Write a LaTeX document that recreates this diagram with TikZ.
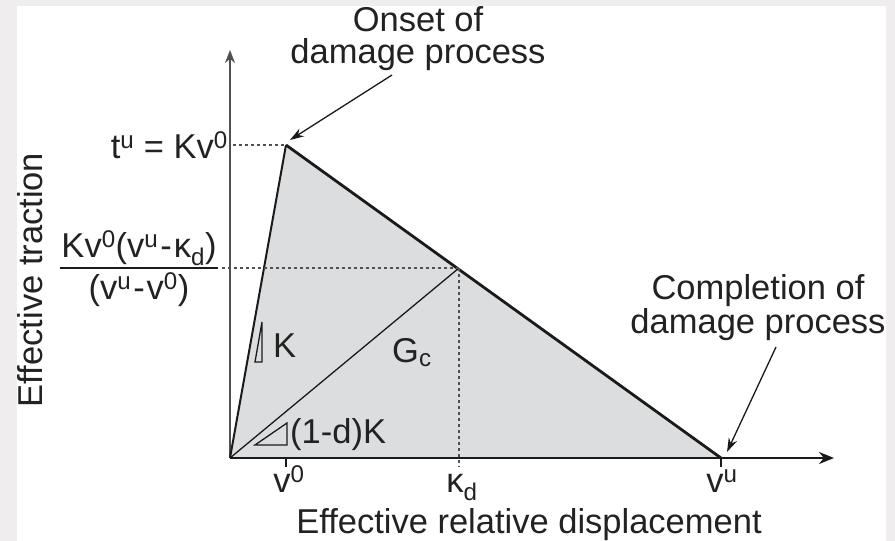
\documentclass[tikz,border=0pt]{standalone}
\usepackage{fontspec}
\setmainfont{Liberation Sans}
\usetikzlibrary{arrows.meta}
\definecolor{bgc}{HTML}{EFEDED}
\definecolor{fillc}{HTML}{DCDDDF}
\definecolor{linec}{HTML}{1A1A1A}
\definecolor{axisc}{HTML}{505050}
\definecolor{txtc}{HTML}{222222}
\newcommand{\mns}{\kern2pt-\kern2pt}
\begin{document}
\begin{tikzpicture}[x=1pt,y=-1pt,
  lbl/.style={font=\fontsize{34.5}{32}\selectfont, text=txtc, inner sep=0pt},
  dotline/.style={line width=1.6pt, axisc, dash pattern=on 3pt off 3pt},
  thinln/.style={line width=1.3pt, linec},
  callout/.style={line width=1.3pt, linec, -{Stealth[length=14pt,width=9pt]}}]
\fill[bgc] (0,0) rectangle (895,541);
\fill[white] (17,6) rectangle (886,541);
\useasboundingbox (0,0) rectangle (895,541);

\coordinate (O) at (230,458);
\coordinate (P) at (286,145);
\coordinate (U) at (721,458);
\coordinate (Kd) at (459,268);
\coordinate (Ytop) at (230,50);
\coordinate (Xend) at (834,458);
\coordinate (PL) at (233,145);
\coordinate (FL) at (222,268);
\coordinate (KdB) at (459,467);
\coordinate (V0B) at (286,467);
\coordinate (V0T) at (286,458);
\coordinate (VuB) at (721,467);

% shaded area
\fill[fillc] (O) -- (P) -- (U) -- cycle;

% axes
\draw[line width=1.6pt, axisc, -{Stealth[length=13pt,width=10pt]}] (O) -- (Ytop);
\draw[line width=2.4pt, linec, -{Stealth[length=15pt,width=12pt]}] (O) -- (Xend);

% curve lines
\draw[line width=2pt, linec, line join=round] (O) -- (P);
\draw[line width=2.8pt, linec] (P) -- (U);
\draw[thinln] (O) -- (Kd);

% dotted guides
\draw[dotline] (PL) -- (P);
\draw[dotline] (FL) -- (Kd);
\draw[dotline] (Kd) -- (KdB);

% ticks
\draw[line width=1.6pt, linec] (V0T) -- (V0B);
\draw[line width=1.6pt, linec] (U) -- (VuB);

% slope triangles
\coordinate (k1) at (255,362);
\coordinate (k2) at (262,322);
\coordinate (k3) at (262,362);
\draw[thinln, line join=miter] (k1) -- (k2) -- (k3) -- cycle;
\coordinate (d1) at (255,445);
\coordinate (d2) at (287,423);
\coordinate (d3) at (287,445);
\draw[thinln, line join=miter] (d1) -- (d2) -- (d3) -- cycle;

% labels
\node[lbl, anchor=base east] (tu) at (228,158) {t\textsuperscript{u} = Kv\textsuperscript{0}};
\node[lbl, anchor=base] (num) at (139,257) {Kv\textsuperscript{0}(v\textsuperscript{u}\mns κ\textsubscript{d})};
\node[lbl, anchor=base] (den) at (139,299) {(v\textsuperscript{u}\mns v\textsuperscript{0})};
\coordinate (fa) at (60,268);
\coordinate (fb) at (218,268);
\draw[line width=1.6pt, linec] (fa) -- (fb);

\node[lbl, anchor=base west] (Klbl) at (273,357) {K};
\node[lbl, anchor=base west] (Gc) at (392,362) {G\textsubscript{c}};
\node[lbl, anchor=base west] (dK) at (290,443) {(1-d)K};

\node[lbl, anchor=base] (v0) at (289,492) {v\textsuperscript{0}};
\node[lbl, anchor=base] (kd) at (462,492) {κ\textsubscript{d}};
\node[lbl, anchor=base] (vu) at (722,492) {v\textsuperscript{u}};

\node[lbl, anchor=base] (xlab) at (529,533) {Effective relative displacement};
\node[lbl, anchor=base, rotate=90] (ylab) at (42,280) {Effective traction};

\node[lbl, align=center, anchor=base] (onset) at (418,63) {Onset of\\damage process};
\node[lbl, align=center, anchor=base] (compl) at (758,333) {Completion of\\damage process};

\coordinate (oTail) at (392,75);
\coordinate (oTip) at (290,140);
\draw[callout] (oTail) -- (oTip);
\coordinate (cTail) at (776,347);
\coordinate (cTip) at (727,452);
\draw[callout] (cTail) -- (cTip);
\end{tikzpicture}
\end{document}
